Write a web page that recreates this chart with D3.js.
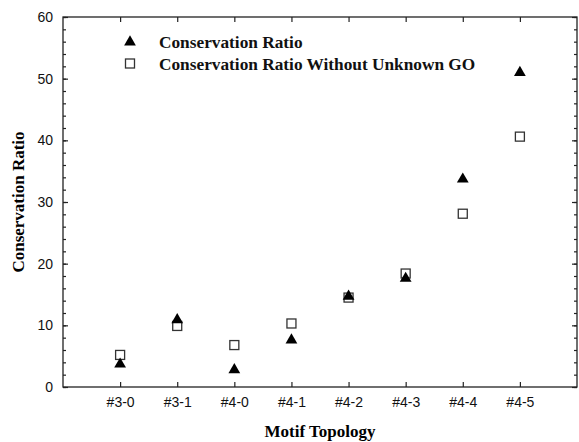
<!DOCTYPE html>
<html><head><meta charset="utf-8">
<script src="https://cdn.jsdelivr.net/npm/d3@7"></script>
<style>body{margin:0;background:#fff}svg{display:block}</style>
</head><body>
<script>
const categories = ["#3-0","#3-1","#4-0","#4-1","#4-2","#4-3","#4-4","#4-5"];
const conservationRatio = [3.7, 10.9, 2.8, 7.6, 14.7, 17.6, 33.7, 51.0];
const withoutUnknownGO = [5.2, 9.9, 6.8, 10.3, 14.5, 18.4, 28.1, 40.6];
const yTicks = [0,10,20,30,40,50,60];
const seriesNames = ["Conservation Ratio","Conservation Ratio Without Unknown GO"];

const W=579,H=442;
const L=63,R=577,T=17,B=387;
const svg=d3.select("body").append("svg").attr("width",W).attr("height",H);
const x=d3.scaleLinear().domain([-1,categories.length]).range([L,R]);
const y=d3.scaleLinear().domain([0,60]).range([B,T]);
const idx=categories.map((c,i)=>i);
const minor=d3.range(0,61,2);

// frame
svg.append("rect").attr("x",L).attr("y",T).attr("width",R-L).attr("height",B-T)
  .attr("fill","none").attr("stroke","#222").attr("stroke-width",1.3);

// left axis
const gl=svg.append("g").attr("transform",`translate(${L},0)`)
  .call(d3.axisRight(y).tickValues(minor).tickSize(3).tickFormat(""));
gl.select(".domain").remove();
const glm=svg.append("g").attr("transform",`translate(${L},0)`)
  .call(d3.axisRight(y).tickValues(yTicks).tickSize(5).tickFormat(""));
glm.select(".domain").remove();
const gll=svg.append("g").attr("transform",`translate(${L},0)`)
  .call(d3.axisLeft(y).tickValues(yTicks).tickSize(0).tickPadding(10));
gll.select(".domain").remove();
gll.selectAll("text").attr("font-family","Liberation Sans, Arial, sans-serif").attr("font-size",14).attr("fill","#111");

// right axis
const gr=svg.append("g").attr("transform",`translate(${R},0)`)
  .call(d3.axisLeft(y).tickValues(minor).tickSize(3).tickFormat(""));
gr.select(".domain").remove();
const grm=svg.append("g").attr("transform",`translate(${R},0)`)
  .call(d3.axisLeft(y).tickValues(yTicks).tickSize(5).tickFormat(""));
grm.select(".domain").remove();

// bottom axis
const gb=svg.append("g").attr("transform",`translate(0,${B})`)
  .call(d3.axisTop(x).tickValues(idx).tickSize(5).tickFormat(""));
gb.select(".domain").remove();
const gbl=svg.append("g").attr("transform",`translate(0,${B})`)
  .call(d3.axisBottom(x).tickValues(idx).tickSize(0).tickPadding(10).tickFormat(i=>categories[i]));
gbl.select(".domain").remove();
gbl.selectAll("text").attr("font-family","Liberation Sans, Arial, sans-serif").attr("font-size",14).attr("fill","#111");
// top axis
const gt=svg.append("g").attr("transform",`translate(0,${T})`)
  .call(d3.axisBottom(x).tickValues(idx).tickSize(5).tickFormat(""));
gt.select(".domain").remove();
svg.selectAll(".tick line").attr("stroke","#222").attr("stroke-width",1.2);

// titles
svg.append("text").attr("x",(L+R)/2).attr("y",437).attr("text-anchor","middle")
  .attr("font-family","Liberation Serif, Times New Roman, serif").attr("font-weight","bold")
  .attr("font-size",17).text("Motif Topology");
svg.append("text").attr("transform",`translate(24,${(T+B)/2}) rotate(-90)`).attr("text-anchor","middle")
  .attr("font-family","Liberation Serif, Times New Roman, serif").attr("font-weight","bold")
  .attr("font-size",17).text("Conservation Ratio");

const tri=d3.symbol().type(d3.symbolTriangle).size(60);
// squares
svg.append("g").selectAll("rect").data(withoutUnknownGO).join("rect")
  .attr("x",(d,i)=>x(i)-4.5).attr("y",d=>y(d)-4.5).attr("width",9).attr("height",9)
  .attr("fill","#fff").attr("stroke","#333").attr("stroke-width",1.3);
// triangles
svg.append("g").selectAll("path").data(conservationRatio).join("path")
  .attr("d",tri).attr("transform",(d,i)=>`translate(${x(i)},${y(d)})`).attr("fill","#000");

// legend
const lg=svg.append("g");
lg.append("path").attr("d",tri).attr("transform","translate(130,42)").attr("fill","#000");
lg.append("rect").attr("x",125.5).attr("y",59).attr("width",9).attr("height",9)
  .attr("fill","#fff").attr("stroke","#333").attr("stroke-width",1.3);
seriesNames.forEach((n,i)=>{
  lg.append("text").attr("x",159).attr("y",48+i*21.5)
    .attr("font-family","Liberation Serif, Times New Roman, serif").attr("font-weight","bold")
    .attr("font-size",17.3).attr("fill","#111").text(n);
});
</script>
</body></html>
